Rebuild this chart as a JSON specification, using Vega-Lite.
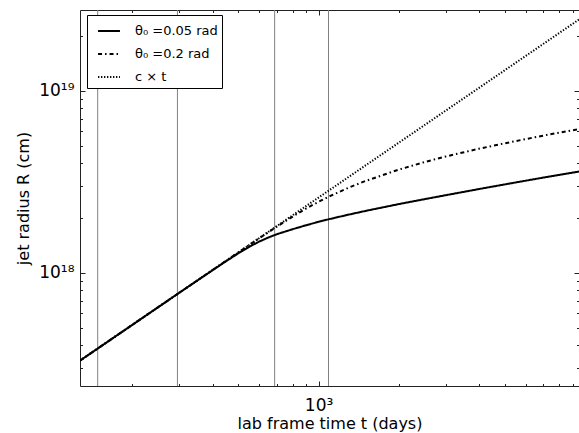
{
  "$schema": "https://vega.github.io/schema/vega-lite/v6.json",
  "width": 499,
  "height": 376,
  "autosize": "none",
  "padding": {"left": 80, "top": 10, "right": 0, "bottom": 47},
  "datasets": {
    "vlines": [
      {"t": 148},
      {"t": 295},
      {"t": 684},
      {"t": 1090}
    ],
    "curves": [
      {"series": "θ₀ =0.05 rad", "t": 127, "R": 3.29e17},
      {"series": "θ₀ =0.05 rad", "t": 150, "R": 3.885e17},
      {"series": "θ₀ =0.05 rad", "t": 200, "R": 5.18e17},
      {"series": "θ₀ =0.05 rad", "t": 300, "R": 7.77e17},
      {"series": "θ₀ =0.05 rad", "t": 400, "R": 1.033e18},
      {"series": "θ₀ =0.05 rad", "t": 450, "R": 1.159e18},
      {"series": "θ₀ =0.05 rad", "t": 500, "R": 1.28e18},
      {"series": "θ₀ =0.05 rad", "t": 550, "R": 1.391e18},
      {"series": "θ₀ =0.05 rad", "t": 600, "R": 1.486e18},
      {"series": "θ₀ =0.05 rad", "t": 650, "R": 1.565e18},
      {"series": "θ₀ =0.05 rad", "t": 700, "R": 1.632e18},
      {"series": "θ₀ =0.05 rad", "t": 800, "R": 1.736e18},
      {"series": "θ₀ =0.05 rad", "t": 900, "R": 1.826e18},
      {"series": "θ₀ =0.05 rad", "t": 1000, "R": 1.905e18},
      {"series": "θ₀ =0.05 rad", "t": 1100, "R": 1.973e18},
      {"series": "θ₀ =0.05 rad", "t": 1300, "R": 2.088e18},
      {"series": "θ₀ =0.05 rad", "t": 1500, "R": 2.186e18},
      {"series": "θ₀ =0.05 rad", "t": 2000, "R": 2.384e18},
      {"series": "θ₀ =0.05 rad", "t": 2500, "R": 2.537e18},
      {"series": "θ₀ =0.05 rad", "t": 3000, "R": 2.667e18},
      {"series": "θ₀ =0.05 rad", "t": 4000, "R": 2.883e18},
      {"series": "θ₀ =0.05 rad", "t": 5000, "R": 3.058e18},
      {"series": "θ₀ =0.05 rad", "t": 6000, "R": 3.206e18},
      {"series": "θ₀ =0.05 rad", "t": 7000, "R": 3.335e18},
      {"series": "θ₀ =0.05 rad", "t": 8000, "R": 3.448e18},
      {"series": "θ₀ =0.05 rad", "t": 9517, "R": 3.6e18},
      {"series": "θ₀ =0.2 rad", "t": 127, "R": 3.29e17},
      {"series": "θ₀ =0.2 rad", "t": 200, "R": 5.18e17},
      {"series": "θ₀ =0.2 rad", "t": 300, "R": 7.77e17},
      {"series": "θ₀ =0.2 rad", "t": 400, "R": 1.036e18},
      {"series": "θ₀ =0.2 rad", "t": 500, "R": 1.295e18},
      {"series": "θ₀ =0.2 rad", "t": 600, "R": 1.552e18},
      {"series": "θ₀ =0.2 rad", "t": 650, "R": 1.674e18},
      {"series": "θ₀ =0.2 rad", "t": 700, "R": 1.799e18},
      {"series": "θ₀ =0.2 rad", "t": 800, "R": 2.037e18},
      {"series": "θ₀ =0.2 rad", "t": 900, "R": 2.256e18},
      {"series": "θ₀ =0.2 rad", "t": 1000, "R": 2.455e18},
      {"series": "θ₀ =0.2 rad", "t": 1100, "R": 2.632e18},
      {"series": "θ₀ =0.2 rad", "t": 1300, "R": 2.938e18},
      {"series": "θ₀ =0.2 rad", "t": 1500, "R": 3.193e18},
      {"series": "θ₀ =0.2 rad", "t": 2000, "R": 3.687e18},
      {"series": "θ₀ =0.2 rad", "t": 2500, "R": 4.058e18},
      {"series": "θ₀ =0.2 rad", "t": 3000, "R": 4.353e18},
      {"series": "θ₀ =0.2 rad", "t": 4000, "R": 4.801e18},
      {"series": "θ₀ =0.2 rad", "t": 5000, "R": 5.144e18},
      {"series": "θ₀ =0.2 rad", "t": 6000, "R": 5.429e18},
      {"series": "θ₀ =0.2 rad", "t": 7000, "R": 5.673e18},
      {"series": "θ₀ =0.2 rad", "t": 8000, "R": 5.888e18},
      {"series": "θ₀ =0.2 rad", "t": 9517, "R": 6.16e18},
      {"series": "c × t", "t": 127, "R": 3.289e17},
      {"series": "c × t", "t": 300, "R": 7.77e17},
      {"series": "c × t", "t": 1000, "R": 2.59e18},
      {"series": "c × t", "t": 3000, "R": 7.77e18},
      {"series": "c × t", "t": 9517, "R": 2.465e19}
    ]
  },
  "layer": [
    {
      "data": {"name": "vlines"},
      "mark": {"type": "rule", "color": "#808080", "strokeWidth": 1},
      "encoding": {
        "x": {"field": "t", "type": "quantitative", "scale": {"type": "log", "domain": [127, 9517], "nice": false}, "axis": null}
      }
    },
    {
      "data": {"name": "curves"},
      "mark": {"type": "line", "color": "black", "clip": true},
      "encoding": {
        "x": {
          "field": "t", "type": "quantitative",
          "scale": {"type": "log", "domain": [127, 9517], "nice": false},
          "axis": {"orient": "bottom", "values": [1000], "labelExpr": "'10³'", "tickSize": -5, "labelPadding": 16, "title": "lab frame time t (days)", "titlePadding": 2}
        },
        "y": {
          "field": "R", "type": "quantitative",
          "scale": {"type": "log", "domain": [2.386e17, 2.78e19], "nice": false},
          "axis": {"orient": "left", "values": [1e18, 1e19], "labelExpr": "datum.value > 5e18 ? '10¹⁹' : '10¹⁸'", "tickSize": -5, "labelPadding": 11, "title": "jet radius R (cm)", "titlePadding": 7}
        },
        "strokeDash": {
          "field": "series", "type": "nominal",
          "scale": {"domain": ["θ₀ =0.05 rad", "θ₀ =0.2 rad", "c × t"], "range": [[1, 0], [4, 3, 1.5, 3], [1.3, 1.7]]},
          "legend": {"title": null, "orient": "none", "legendX": 7, "legendY": 5}
        },
        "strokeWidth": {
          "field": "series", "type": "nominal",
          "scale": {"domain": ["θ₀ =0.05 rad", "θ₀ =0.2 rad", "c × t"], "range": [2, 2, 1.5]},
          "legend": {"title": null, "orient": "none", "legendX": 7, "legendY": 5}
        }
      }
    },
    {
      "data": {"name": "curves"},
      "mark": {"type": "point", "opacity": 0},
      "encoding": {
        "x": {
          "field": "t", "type": "quantitative",
          "scale": {"type": "log", "domain": [127, 9517], "nice": false},
          "axis": {"orient": "bottom", "values": [200, 300, 400, 500, 600, 700, 800, 900, 2000, 3000, 4000, 5000, 6000, 7000, 8000, 9000], "labels": false, "tickSize": -2.5, "title": null}
        },
        "y": {
          "field": "R", "type": "quantitative",
          "scale": {"type": "log", "domain": [2.386e17, 2.78e19], "nice": false},
          "axis": {"orient": "left", "values": [3e17, 4e17, 5e17, 6e17, 7e17, 8e17, 9e17, 2e18, 3e18, 4e18, 5e18, 6e18, 7e18, 8e18, 9e18, 2e19], "labels": false, "tickSize": -2.5, "title": null}
        }
      }
    },
    {
      "data": {"name": "curves"},
      "mark": {"type": "point", "opacity": 0},
      "encoding": {
        "x": {
          "field": "t", "type": "quantitative",
          "scale": {"type": "log", "domain": [127, 9517], "nice": false},
          "axis": {"orient": "top", "values": [1000], "labels": false, "tickSize": -5, "title": null}
        },
        "y": {
          "field": "R", "type": "quantitative",
          "scale": {"type": "log", "domain": [2.386e17, 2.78e19], "nice": false},
          "axis": {"orient": "right", "values": [1e18, 1e19], "labels": false, "tickSize": -5, "title": null}
        }
      }
    },
    {
      "data": {"name": "curves"},
      "mark": {"type": "point", "opacity": 0},
      "encoding": {
        "x": {
          "field": "t", "type": "quantitative",
          "scale": {"type": "log", "domain": [127, 9517], "nice": false},
          "axis": {"orient": "top", "values": [200, 300, 400, 500, 600, 700, 800, 900, 2000, 3000, 4000, 5000, 6000, 7000, 8000, 9000], "labels": false, "tickSize": -2.5, "title": null}
        },
        "y": {
          "field": "R", "type": "quantitative",
          "scale": {"type": "log", "domain": [2.386e17, 2.78e19], "nice": false},
          "axis": {"orient": "right", "values": [3e17, 4e17, 5e17, 6e17, 7e17, 8e17, 9e17, 2e18, 3e18, 4e18, 5e18, 6e18, 7e18, 8e18, 9e18, 2e19], "labels": false, "tickSize": -2.5, "title": null}
        }
      }
    }
  ],
  "resolve": {"axis": {"x": "independent", "y": "independent"}},
  "config": {
    "font": "DejaVu Sans",
    "view": {"stroke": "#222222", "strokeWidth": 1},
    "axis": {
      "domain": false,
      "grid": false,
      "tickColor": "#222222",
      "tickWidth": 1,
      "labelFont": "DejaVu Sans",
      "labelFontSize": 17,
      "labelColor": "black",
      "titleFont": "DejaVu Sans",
      "titleFontSize": 16,
      "titleFontWeight": "normal",
      "titleColor": "black"
    },
    "legend": {
      "strokeColor": "black",
      "fillColor": "white",
      "cornerRadius": 0,
      "padding": 4,
      "rowPadding": 4,
      "symbolType": "stroke",
      "symbolSize": 480,
      "symbolStrokeColor": "black",
      "symbolOffset": 6,
      "labelOffset": 14,
      "labelFont": "DejaVu Sans",
      "labelFontSize": 13,
      "labelColor": "black"
    }
  }
}
